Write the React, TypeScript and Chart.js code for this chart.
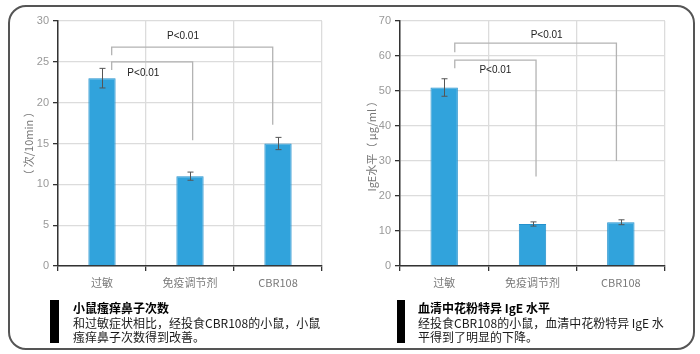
import React, { useEffect, useRef } from "react";
import { Chart, registerables } from "chart.js";

Chart.register(...registerables);

const categories = ["过敏", "免疫调节剂", "CBR108"];

const sneezeValues = [23, 11, 15];
const sneezeErrors = [1.2, 0.5, 0.75];
const sneezeMax = 30;
const sneezeStep = 5;
const sneezeAxisTitle = "（ 次/10min ）";
const sneezeBrackets = [
  { from: 0.11, to: 1.03, top: 25.0, fromEnd: 24.0, toEnd: 15.4, labelX: 0.47, labelY: 23.6, label: "P<0.01" },
  { from: 0.11, to: 1.94, top: 26.8, fromEnd: 25.8, toEnd: 17.3, labelX: 0.92, labelY: 28.1, label: "P<0.01" },
];

const igeValues = [51, 12, 12.5];
const igeErrors = [2.5, 0.6, 0.7];
const igeMax = 70;
const igeStep = 10;
const igeAxisTitle = "IgE水平（ μg/ml ）";
const igeBrackets = [
  { from: 0.12, to: 1.04, top: 58.8, fromEnd: 56.5, toEnd: 25.6, labelX: 0.58, labelY: 55.8, label: "P<0.01" },
  { from: 0.12, to: 1.95, top: 63.7, fromEnd: 61.1, toEnd: 30, labelX: 1.16, labelY: 66, label: "P<0.01" },
];

const sneezeTitle = "小鼠瘙痒鼻子次数";
const sneezeText = ["和过敏症状相比，经投食CBR108的小鼠，小鼠", "瘙痒鼻子次数得到改善。"];
const igeTitle = "血清中花粉特异 IgE 水平";
const igeText = ["经投食CBR108的小鼠，血清中花粉特异 IgE 水", "平得到了明显的下降。"];

type Bracket = {
  from: number; to: number; top: number; fromEnd: number; toEnd: number;
  labelX: number; labelY: number; label: string;
};

function makeAnnotPlugin(errors: number[], brackets: Bracket[]) {
  return {
    id: "annot",
    afterDatasetsDraw(chart: any) {
      const ctx = chart.ctx;
      const xs = chart.scales.x;
      const ys = chart.scales.y;
      const values = chart.data.datasets[0].data as number[];
      ctx.save();
      // error bars
      ctx.strokeStyle = "#555";
      ctx.lineWidth = 1;
      values.forEach((v, i) => {
        const x = Math.round(xs.getPixelForValue(i)) + 0.5;
        const yt = ys.getPixelForValue(v + errors[i]);
        const yb = ys.getPixelForValue(v - errors[i]);
        ctx.beginPath();
        ctx.moveTo(x, yt);
        ctx.lineTo(x, yb);
        ctx.moveTo(x - 3, yt);
        ctx.lineTo(x + 3, yt);
        ctx.moveTo(x - 3, yb);
        ctx.lineTo(x + 3, yb);
        ctx.stroke();
      });
      // brackets
      ctx.strokeStyle = "#b3b3b3";
      ctx.lineWidth = 1.3;
      brackets.forEach((b) => {
        const x1 = xs.getPixelForValue(b.from);
        const x2 = xs.getPixelForValue(b.to);
        ctx.beginPath();
        ctx.moveTo(x1, ys.getPixelForValue(b.fromEnd));
        ctx.lineTo(x1, ys.getPixelForValue(b.top));
        ctx.lineTo(x2, ys.getPixelForValue(b.top));
        ctx.lineTo(x2, ys.getPixelForValue(b.toEnd));
        ctx.stroke();
      });
      ctx.fillStyle = "#222";
      ctx.font = "10px 'Liberation Sans', Arial, sans-serif";
      ctx.textAlign = "center";
      ctx.textBaseline = "middle";
      brackets.forEach((b) => {
        ctx.fillText(b.label, xs.getPixelForValue(b.labelX), ys.getPixelForValue(b.labelY));
      });
      ctx.restore();
    },
  };
}

function BarChart(props: {
  values: number[]; errors: number[]; brackets: Bracket[]; max: number; step: number;
  title: string; axisWidth: number; titlePad: number; padRight: number;
}) {
  const ref = useRef<HTMLCanvasElement>(null);
  useEffect(() => {
    const { values, errors, brackets, max, step, title, axisWidth, titlePad, padRight } = props;
    const chart = new Chart(ref.current as HTMLCanvasElement, {
      type: "bar",
      data: {
        labels: categories,
        datasets: [
          {
            data: values,
            backgroundColor: "#31a3dc",
            borderColor: "#2391cd",
            borderWidth: 1,
            barPercentage: 0.31,
            categoryPercentage: 1,
          },
        ],
      },
      options: {
        responsive: false,
        animation: false,
        devicePixelRatio: 1,
        layout: { padding: { top: 21, right: padRight, left: 0, bottom: 0 } },
        plugins: { legend: { display: false }, tooltip: { enabled: false } },
        scales: {
          x: {
            offset: true,
            grid: { offset: true, color: "#dcdcdc", lineWidth: 1.3, tickColor: "#333", tickLength: 5 },
            border: { color: "#333", width: 1.5 },
            ticks: {
              color: "#7a7a7a",
              padding: 5,
              font: { size: 11, family: "'Noto Sans CJK SC', sans-serif" },
            },
            afterFit: (s: any) => { s.height = 34; },
          },
          y: {
            min: 0,
            max: max,
            ticks: {
              stepSize: step,
              color: "#999",
              padding: 4,
              font: { size: 11, family: "'Liberation Sans', Arial, sans-serif" },
            },
            grid: { color: "#dcdcdc", lineWidth: 1.3, tickColor: "#333", tickLength: 5 },
            border: { color: "#333", width: 1.5 },
            title: {
              display: true,
              text: title,
              color: "#777",
              padding: { top: titlePad, bottom: 0 },
              font: { size: 11, family: "'Noto Sans CJK SC', sans-serif" },
            },
            afterFit: (s: any) => { s.width = axisWidth; },
          },
        },
      },
      plugins: [makeAnnotPlugin(errors, brackets)],
    });
    return () => chart.destroy();
  }, []);
  return <canvas ref={ref} width={340} height={300} style={{ display: "block" }} />;
}

function Caption(props: { left: number; barLeft: number; barWidth: number; title: string; lines: string[] }) {
  return (
    <>
      <div
        style={{
          position: "absolute",
          left: props.barLeft,
          top: 300,
          width: props.barWidth,
          height: 43,
          background: "#000",
        }}
      />
      <div
        style={{
          position: "absolute",
          left: props.left,
          top: 301,
          fontFamily: "'Noto Sans CJK SC', sans-serif",
          fontSize: 12,
          lineHeight: "14.5px",
          color: "#1a1a1a",
          whiteSpace: "nowrap",
        }}
      >
        <div style={{ fontWeight: "bold", color: "#000" }}>{props.title}</div>
        {props.lines.map((l, i) => (
          <div key={i}>{l}</div>
        ))}
      </div>
    </>
  );
}

export default function App() {
  return (
    <div style={{ position: "fixed", left: 0, top: 0, width: 700, height: 354, background: "#fff", overflow: "hidden" }}>
      <div
        style={{
          position: "absolute",
          left: 8,
          top: 5,
          width: 683,
          height: 341,
          border: "2px solid #555",
          borderRadius: 18,
        }}
      />
      <div style={{ position: "absolute", left: 0, top: 0 }}>
        <BarChart
          values={sneezeValues}
          errors={sneezeErrors}
          brackets={sneezeBrackets}
          max={sneezeMax}
          step={sneezeStep}
          title={sneezeAxisTitle}
          axisWidth={58}
          titlePad={22}
          padRight={18}
        />
      </div>
      <div style={{ position: "absolute", left: 350, top: 0 }}>
        <BarChart
          values={igeValues}
          errors={igeErrors}
          brackets={igeBrackets}
          max={igeMax}
          step={igeStep}
          title={igeAxisTitle}
          axisWidth={50}
          titlePad={15}
          padRight={25}
        />
      </div>
      <Caption left={73} barLeft={50} barWidth={9} title={sneezeTitle} lines={sneezeText} />
      <Caption left={418} barLeft={397} barWidth={8} title={igeTitle} lines={igeText} />
    </div>
  );
}
